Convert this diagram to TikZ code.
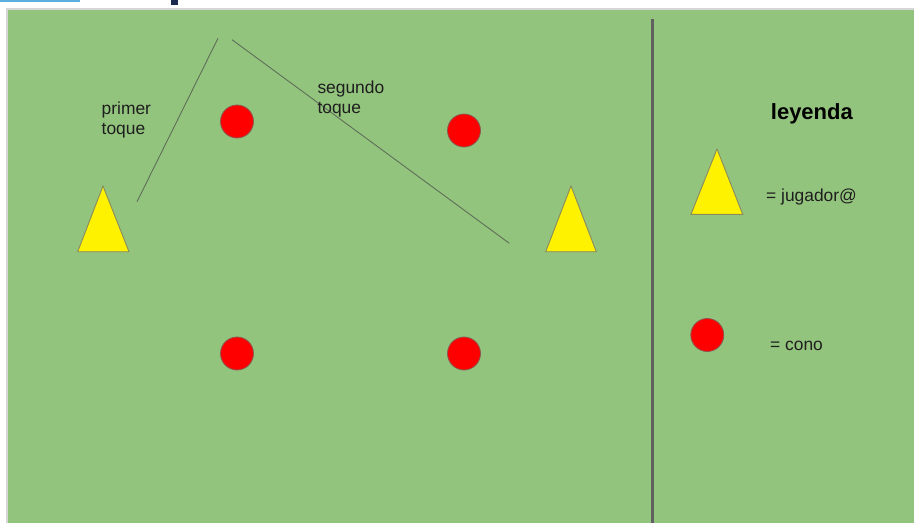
\documentclass[tikz,border=0pt]{standalone}
\usepackage{fontspec}
\setmainfont{Liberation Sans}
\definecolor{field}{HTML}{93C47D}
\definecolor{bordergray}{HTML}{D6D6D6}
\definecolor{topblue}{HTML}{5AAFE0}
\definecolor{navy}{HTML}{1B2A4E}
\definecolor{divider}{HTML}{606060}
\definecolor{touchline}{HTML}{5E6E58}
\definecolor{tri}{HTML}{8A8A5C}
\definecolor{coneedge}{HTML}{8A5A50}
\definecolor{txt}{HTML}{1E1E1E}
\tikzset{
  cone/.style={circle, fill=red, draw=coneedge, line width=0.8pt, minimum size=33pt, inner sep=0pt},
  player/.style={fill=yellow, draw=tri, line width=0.9pt, line join=miter},
  touch/.style={draw=touchline, line width=0.9pt},
  lbl/.style={text=txt, font=\fontsize{17.4}{20}\selectfont, inner sep=0pt, align=left},
  title/.style={text=black, font=\bfseries\fontsize{22}{26}\selectfont, inner sep=0pt}
}
\begin{document}
\begin{tikzpicture}[x=1pt,y=-1pt]
\useasboundingbox (0,0) rectangle (914,523);
\fill[white] (0,0) rectangle (914,523);
\fill[topblue] (0,0) rectangle (80,2);
\fill[navy] (171,0) rectangle (178,5);
\fill[bordergray] (6,8) rectangle (914,523);
\fill[field] (8,10) rectangle (914,523);
\draw[divider, line width=3pt] (652,19) -- (652,523);

% players
\draw[player] (103,186) -- (129,251.7) -- (77.7,251.7) -- cycle;
\draw[player] (571,186) -- (596.3,251.7) -- (545.7,251.7) -- cycle;
\draw[player] (717,149) -- (742.7,214.3) -- (691,214.3) -- cycle;

% cones
\node[cone] (c1) at (237,121.5) {};
\node[cone] (c2) at (464,130.5) {};
\node[cone] (c3) at (237,353.5) {};
\node[cone] (c4) at (464,353.5) {};
\node[cone] (lc) at (707.3,335) {};

% touches
\coordinate (a1) at (137,201.7);
\coordinate (a2) at (218,38.3);
\coordinate (b1) at (232,39.7);
\coordinate (b2) at (509.3,243.3);
\draw[touch] (a1) -- (a2);
\draw[touch] (b1) -- (b2);

% labels
\node[lbl, anchor=north west] (t1) at (101.5,102) {primer\\toque};
\node[lbl, anchor=north west] (t2) at (317.3,80.5) {segundo\\toque};
\node[title, anchor=base west] (ley) at (770.7,119.3) {leyenda};
\node[lbl, anchor=base west] (lj) at (766,201.7) {= jugador@};
\node[lbl, anchor=base west] (lco) at (770,350) {= cono};
\end{tikzpicture}
\end{document}
